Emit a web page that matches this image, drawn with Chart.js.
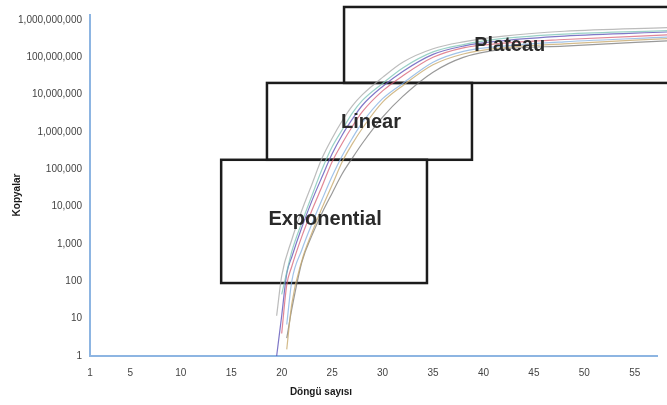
<!DOCTYPE html>
<html>
<head>
<meta charset="utf-8">
<script src="https://cdn.jsdelivr.net/npm/chart.js@4"></script>
<style>
  html, body { margin: 0; padding: 0; background: #ffffff; }
  #wrap { width: 667px; height: 405px; }
</style>
</head>
<body>
<div id="wrap"><canvas id="pcr"></canvas></div>
<script>
// Amplification cycles at which the curves are sampled
const cycles = [19.5, 20, 20.5, 21, 22, 23, 24, 25, 26, 27, 28, 30, 32, 35, 38, 42, 48, 58.5];

// Copy numbers per sample (null = curve not yet visible)
const sampleLightGray = [12, 140, null, 1300, 8000, 4e4, 2e5, 6.8e5, 2e6, 5e6, 1e7, 2.9e7, 7.4e7, 1.7e8, 2.6e8, 3.7e8, 5e8, 6.3e8];
const sampleTeal      = [null, 45, null, 630, 3800, 2e4, 1e5, 4e5, 1.15e6, 3.2e6, 7e6, 2e7, 5.2e7, 1.4e8, 2.2e8, 3.2e8, 4.2e8, 5.2e8];
const samplePurple    = [1, 12, 160, 450, 2800, 1.45e4, 6.3e4, 2.6e5, 8.3e5, 2.2e6, 5.2e6, 1.66e7, 4.2e7, 1.2e8, 2e8, 2.8e8, 3.7e8, 4.8e8];
const sampleRed       = [null, 4, 80, 250, 1600, 8000, 3.5e4, 1.6e5, 5e5, 1.4e6, 3.5e6, 1.26e7, 3.2e7, 1e8, 1.8e8, 2.4e8, 3e8, 4e8];
const sampleLightBlue = [null, null, 7, 100, 700, 3500, 1.55e4, 6.5e4, 2.3e5, 6.8e5, 1.8e6, 7.8e6, 2e7, 7.4e7, 1.45e8, 2e8, 2.6e8, 3.5e8];
const sampleTan       = [null, null, 1.5, 25, 360, 2000, 9300, 3.8e4, 1.6e5, 4.8e5, 1.26e6, 6.3e6, 1.74e7, 6.3e7, 1.23e8, 1.8e8, 2.3e8, 3.2e8];
const sampleGray      = [null, null, 3, 18, 330, 1700, 6800, 2.3e4, 7.6e4, 2e5, 5e5, 2.5e6, 9e6, 4e7, 1e8, 1.66e8, 2e8, 2.8e8];

// Axis ticks
const xTicks = [1, 5, 10, 15, 20, 25, 30, 35, 40, 45, 50, 55];
const yTicks = [1, 10, 100, 1e3, 1e4, 1e5, 1e6, 1e7, 1e8, 1e9];

// Phase regions (cycle range and copy range) with their labels
const phaseNames       = ['Exponential', 'Linear', 'Plateau'];
const phaseCycleFrom   = [14, 18.54, 26.18];
const phaseCycleTo     = [34.4, 38.86, 60];
const phaseCopiesLow   = [90, 1.8e5, 2.06e7];
const phaseCopiesHigh  = [1.8e5, 2.06e7, 2.23e9];
const phaseLabelCycle  = [24.3, 28.85, 42.6];
const phaseLabelCopies = [4400, 1.85e6, 2.14e8];

const series = [
  { values: sampleLightGray, color: 'rgba(165,165,165,0.75)' },
  { values: sampleTeal,      color: 'rgba(120,195,180,0.75)' },
  { values: samplePurple,    color: 'rgba(95,85,185,0.8)' },
  { values: sampleRed,       color: 'rgba(215,95,115,0.75)' },
  { values: sampleLightBlue, color: 'rgba(130,175,225,0.75)' },
  { values: sampleTan,       color: 'rgba(200,170,110,0.8)' },
  { values: sampleGray,      color: 'rgba(110,110,110,0.7)' }
];

const datasets = series.map(s => ({
  data: cycles.map((c, i) => ({ x: c, y: s.values[i] })).filter(p => p.y !== null),
  borderColor: s.color,
  borderWidth: 1.2,
  pointRadius: 0,
  fill: false,
  cubicInterpolationMode: 'monotone',
  clip: { left: 2, top: 20, right: 14, bottom: 2 }
}));

// Phase boxes behind the curves, labels on top
const phasePlugin = {
  id: 'phases',
  beforeDatasetsDraw(chart) {
    const { ctx, scales: { x, y } } = chart;
    ctx.save();
    ctx.strokeStyle = '#1c1c1c';
    ctx.lineWidth = 2.5;
    phaseNames.forEach((n, i) => {
      const x0 = x.getPixelForValue(phaseCycleFrom[i]);
      const x1 = x.getPixelForValue(phaseCycleTo[i]);
      const y0 = y.getPixelForValue(phaseCopiesHigh[i]);
      const y1 = y.getPixelForValue(phaseCopiesLow[i]);
      ctx.strokeRect(x0, y0, x1 - x0, y1 - y0);
    });
    ctx.restore();
  },
  afterDatasetsDraw(chart) {
    const { ctx, scales: { x, y } } = chart;
    ctx.save();
    ctx.fillStyle = '#2a2a2a';
    ctx.font = 'bold 20px "Liberation Sans", Arial, sans-serif';
    ctx.textAlign = 'center';
    ctx.textBaseline = 'middle';
    phaseNames.forEach((n, i) => {
      ctx.fillText(n, x.getPixelForValue(phaseLabelCycle[i]), y.getPixelForValue(phaseLabelCopies[i]));
    });
    ctx.restore();
  }
};

// Axis titles
const titlePlugin = {
  id: 'axisTitles',
  afterDraw(chart) {
    const { ctx } = chart;
    ctx.save();
    ctx.fillStyle = '#1a1a1a';
    ctx.font = 'bold 10px "Liberation Sans", Arial, sans-serif';
    ctx.textAlign = 'center';
    ctx.textBaseline = 'middle';
    ctx.fillText('Döngü sayısı', 321, 392);
    ctx.translate(17, 195);
    ctx.rotate(-Math.PI / 2);
    ctx.fillText('Kopyalar', 0, 0);
    ctx.restore();
  }
};

new Chart(document.getElementById('pcr'), {
  type: 'line',
  data: { datasets },
  plugins: [phasePlugin, titlePlugin],
  options: {
    responsive: true,
    maintainAspectRatio: false,
    animation: false,
    layout: { padding: { left: 0, right: 10, top: 15, bottom: 0 } },
    plugins: { legend: { display: false }, tooltip: { enabled: false } },
    scales: {
      x: {
        type: 'linear',
        min: 1,
        max: 57.2,
        grid: { display: false, drawTicks: false },
        border: { display: true, color: '#8db5e2', width: 2 },
        afterBuildTicks(scale) { scale.ticks = xTicks.map(v => ({ value: v })); },
        afterFit(scale) { scale.height = 49; },
        ticks: {
          autoSkip: false,
          maxRotation: 0,
          padding: 11,
          color: '#444',
          font: { family: '"Liberation Sans", Arial, sans-serif', size: 10 },
          callback: v => String(v)
        }
      },
      y: {
        type: 'logarithmic',
        min: 1,
        max: 1.36e9,
        grid: { display: false, drawTicks: false },
        border: { display: true, color: '#8db5e2', width: 2 },
        afterBuildTicks(scale) { scale.ticks = yTicks.map(v => ({ value: v })); },
        afterFit(scale) { scale.width = 90; },
        ticks: {
          autoSkip: false,
          padding: 8,
          color: '#444',
          font: { family: '"Liberation Sans", Arial, sans-serif', size: 10 },
          callback: v => Number(v).toLocaleString('en-US')
        }
      }
    }
  }
});
</script>
</body>
</html>
